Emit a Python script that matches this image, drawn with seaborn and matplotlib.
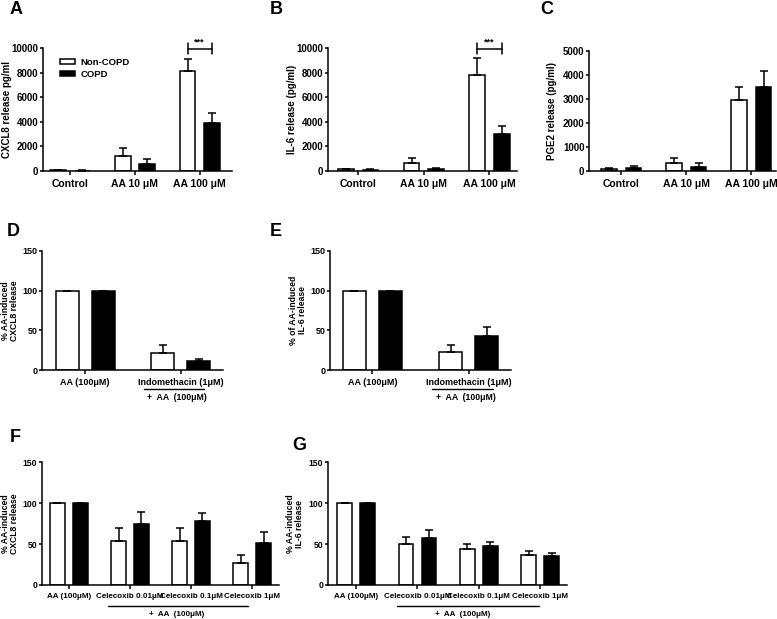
import numpy as np
import pandas as pd
import seaborn as sns
import matplotlib.pyplot as plt
import matplotlib.transforms as mtransforms
from matplotlib.patches import Patch

status = ['Non-COPD', 'COPD']

# A-C: release after AA stimulation
top_groups = ['Control', 'AA 10 μM', 'AA 100 μM']
cxcl8_non = [70, 1250, 8100]
cxcl8_non_err = [40, 600, 1030]
cxcl8_copd = [40, 550, 3900]
cxcl8_copd_err = [20, 430, 810]
il6_non = [150, 680, 7830]
il6_non_err = [40, 350, 1360]
il6_copd = [100, 200, 3000]
il6_copd_err = [30, 60, 650]
pge2_non = [65, 335, 2950]
pge2_non_err = [40, 200, 530]
pge2_copd = [130, 175, 3500]
pge2_copd_err = [70, 160, 660]

# D-E: indomethacin, % of AA-induced release
indo_groups = ['AA (100μM)', 'Indomethacin (1μM)']
indo_cxcl8_non = [100, 21.5]
indo_cxcl8_non_err = [0, 9.7]
indo_cxcl8_copd = [100, 11]
indo_cxcl8_copd_err = [0, 3]
indo_il6_non = [100, 22.7]
indo_il6_non_err = [0, 8.5]
indo_il6_copd = [100, 43.4]
indo_il6_copd_err = [0, 10.5]

# F-G: celecoxib, % of AA-induced release
cele_groups = ['AA (100μM)', 'Celecoxib 0.01μM', 'Celecoxib 0.1μM', 'Celecoxib 1μM']
cele_cxcl8_non = [100, 54, 54, 27.4]
cele_cxcl8_non_err = [0, 16, 16, 9]
cele_cxcl8_copd = [100, 74, 78, 51.5]
cele_cxcl8_copd_err = [0, 15, 10, 13]
cele_il6_non = [100, 50, 43.5, 37]
cele_il6_non_err = [0, 8, 6, 5]
cele_il6_copd = [100, 57, 47, 35]
cele_il6_copd_err = [0, 10.5, 6, 4]

sns.set_theme(style='ticks')
plt.rcParams['font.family'] = ['Liberation Sans', 'DejaVu Sans']
plt.rcParams['font.weight'] = 'bold'
plt.rcParams['axes.labelweight'] = 'bold'
for k in ['text.color', 'axes.labelcolor', 'axes.edgecolor', 'xtick.color', 'ytick.color']:
    plt.rcParams[k] = 'black'

W, H = 777, 619
fig = plt.figure(figsize=(W / 100, H / 100), dpi=100)


def add_ax(l, t, r, b):
    return fig.add_axes([l / W, 1 - b / H, (r - l) / W, (b - t) / H])


def bars(ax, groups, non, non_err, copd, copd_err, xlim, ymax, ystep, ylabel,
         label_x, xfs, yfs, lfs):
    n = len(groups)
    df = pd.DataFrame({
        'group': groups * 2,
        'status': [status[0]] * n + [status[1]] * n,
        'value': non + copd,
    })
    sns.barplot(data=df, x='group', y='value', hue='status', hue_order=status,
                palette={'Non-COPD': 'white', 'COPD': 'black'},
                edgecolor='black', linewidth=1.1, width=0.75, gap=0.36,
                saturation=1, errorbar=None, legend=False, ax=ax)
    for cont, vals, errs in zip(ax.containers, [non, copd], [non_err, copd_err]):
        xs = [p.get_x() + p.get_width() / 2 for p in cont]
        ax.errorbar(xs, vals, yerr=[np.zeros(n), errs], fmt='none',
                    ecolor='black', elinewidth=1.1, capsize=2.8, capthick=1.1)
    ax.set_xlim(*xlim)
    ax.set_ylim(0, ymax)
    ax.set_yticks(np.arange(0, ymax + 1, ystep))
    ax.set_xlabel('')
    ax.set_ylabel(ylabel, fontsize=lfs, linespacing=1.0)
    ax.yaxis.set_label_coords(label_x, 0.5)
    sns.despine(ax=ax)
    for s in ['left', 'bottom']:
        ax.spines[s].set_linewidth(1.1)
    ax.tick_params(axis='x', labelsize=xfs, length=3, width=1.1, pad=2.5)
    ax.tick_params(axis='y', labelsize=yfs, length=2.5, width=1.1, pad=0.8)
    for t in ax.get_xticklabels() + ax.get_yticklabels():
        t.set_fontweight('bold')


def bracket(ax, y, dy):
    x0 = ax.containers[0][2].get_x() + ax.containers[0][2].get_width() / 2
    x1 = ax.containers[1][2].get_x() + ax.containers[1][2].get_width() / 2
    kw = dict(color='black', lw=1.1, clip_on=False)
    ax.plot([x0, x1], [y, y], **kw)
    ax.plot([x0, x0], [y - dy, y + dy], **kw)
    ax.plot([x1, x1], [y - dy, y + dy], **kw)
    ax.annotate('***', ((x0 + x1) / 2, y), xytext=(0, 1.5), textcoords='offset points',
                ha='center', va='bottom', fontsize=6.5, fontweight='bold')


def plus_aa(ax, x0, x1, xt, yl, yt, fs):
    tr = mtransforms.blended_transform_factory(ax.transData, ax.transAxes)
    ax.plot([x0, x1], [yl, yl], color='black', lw=1.0, transform=tr, clip_on=False)
    ax.text(xt, yt, '+  AA  (100μM)', transform=tr, ha='center', va='center',
            fontsize=fs, fontweight='bold')


axA = add_ax(43, 48, 232, 171)
bars(axA, top_groups, cxcl8_non, cxcl8_non_err, cxcl8_copd, cxcl8_copd_err,
     (-0.42, 2.5), 10000, 2000, 'CXCL8 release pg/ml', -0.164, 7.5, 7, 7)
bracket(axA, 9950, 450)
handles = [Patch(facecolor=c, edgecolor='black', linewidth=1.1) for c in ['white', 'black']]
axA.legend(handles, status, loc='upper left', bbox_to_anchor=(0.09, 0.92), frameon=False,
           fontsize=6.8, handlelength=1.6, handleheight=0.5, handletextpad=0.6,
           labelspacing=0.35, borderaxespad=0, borderpad=0)

axB = add_ax(328, 48, 517, 171)
bars(axB, top_groups, il6_non, il6_non_err, il6_copd, il6_copd_err,
     (-0.46, 2.42), 10000, 2000, 'IL-6 release (pg/ml)', -0.164, 7.5, 7, 7)
bracket(axB, 9950, 450)

axC = add_ax(589, 51, 776, 171)
bars(axC, top_groups, pge2_non, pge2_non_err, pge2_copd, pge2_copd_err,
     (-0.5, 2.38), 5000, 1000, 'PGE2 release (pg/ml)', -0.171, 7.5, 7, 7)

axD = add_ax(42, 251, 223, 370)
bars(axD, indo_groups, indo_cxcl8_non, indo_cxcl8_non_err, indo_cxcl8_copd,
     indo_cxcl8_copd_err, (-0.45, 1.44), 150, 50, '% AA-induced\nCXCL8 release',
     -0.127, 6.5, 6.5, 6.2)
plus_aa(axD, 0.62, 1.24, 0.96, -0.163, -0.235, 6.3)

axE = add_ax(330, 251, 511, 370)
bars(axE, indo_groups, indo_il6_non, indo_il6_non_err, indo_il6_copd,
     indo_il6_copd_err, (-0.44, 1.44), 150, 50, '% of AA-induced\nIL-6 release',
     -0.127, 6.5, 6.5, 6.2)
plus_aa(axE, 0.62, 1.255, 0.97, -0.163, -0.235, 6.3)

axF = add_ax(42, 462, 279, 585)
bars(axF, cele_groups, cele_cxcl8_non, cele_cxcl8_non_err, cele_cxcl8_copd,
     cele_cxcl8_copd_err, (-0.44, 3.44), 150, 50, '% AA-induced\nCXCL8 release',
     -0.097, 5.8, 6.2, 6.2)
plus_aa(axF, 0.64, 2.93, 1.76, -0.168, -0.24, 5.8)

axG = add_ax(328, 462, 567, 585)
bars(axG, cele_groups, cele_il6_non, cele_il6_non_err, cele_il6_copd,
     cele_il6_copd_err, (-0.46, 3.44), 150, 50, '% AA-induced\nIL-6 release',
     -0.10, 5.8, 6.2, 6.2)
plus_aa(axG, 0.67, 2.98, 1.74, -0.168, -0.24, 5.8)

for letter, x, y in [('A', 16, 9), ('B', 276, 9), ('C', 547, 9), ('D', 13, 232),
                     ('E', 276, 232), ('F', 15, 437), ('G', 299, 445)]:
    fig.text(x / W, 1 - y / H, letter, fontsize=13, fontweight='bold',
             ha='center', va='center')

fig.savefig('out.png', dpi=100)
